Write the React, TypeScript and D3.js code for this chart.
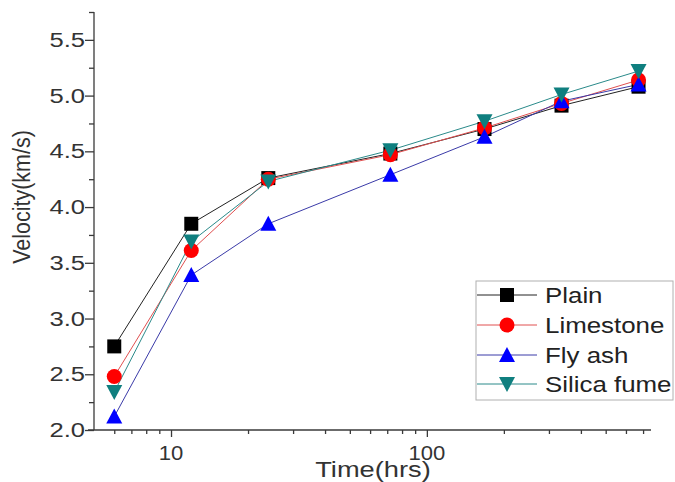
import { useEffect, useRef } from 'react'
import * as d3 from 'd3'

const hours = [6, 12, 24, 72, 168, 336, 672]
const plain = [2.75, 3.85, 4.26, 4.48, 4.7, 4.91, 5.08]
const limestone = [2.48, 3.61, 4.25, 4.47, 4.71, 4.93, 5.14]
const flyAsh = [2.12, 3.39, 3.85, 4.29, 4.63, 4.95, 5.1]
const silicaFume = [2.34, 3.69, 4.23, 4.51, 4.77, 5.01, 5.22]

const seriesNames = ['Plain', 'Limestone', 'Fly ash', 'Silica fume']
const seriesColors = ['#000000', '#ff0000', '#0000ff', '#0f7f7f']
const lineColors = ['#222222', '#e05050', '#3a3aa8', '#2a8a8a']
const seriesShapes = ['square', 'circle', 'triangleUp', 'triangleDown']

const yMajor = [2.0, 2.5, 3.0, 3.5, 4.0, 4.5, 5.0, 5.5]
const yMinor = [2.25, 2.75, 3.25, 3.75, 4.25, 4.75, 5.25, 5.75]
const xMajor = [10, 100]
const xMinor = [6, 7, 8, 9, 20, 30, 40, 50, 60, 70, 80, 90, 200, 300, 400, 500, 600, 700]

const FONT = 'Liberation Sans, Arial, sans-serif'
const AXIS = '#3a3a3a'

function markerPath(shape: string, size: number) {
  const s = size / 2
  if (shape === 'square') return `M${-s},${-s}H${s}V${s}H${-s}Z`
  if (shape === 'circle') return d3.symbol(d3.symbolCircle, Math.PI * (s + 0.5) * (s + 0.5))() as string
  if (shape === 'triangleUp') return `M0,${-s - 1}L${s + 1},${s}L${-s - 1},${s}Z`
  return `M0,${s + 1}L${s + 1},${-s}L${-s - 1},${-s}Z`
}

export default function App() {
  const ref = useRef<SVGSVGElement>(null)

  useEffect(() => {
    const svg = d3.select(ref.current)
    svg.selectAll('*').remove()

    const x = d3.scaleLog().domain([5, 745]).range([94, 650])
    const y = d3.scaleLinear().domain([2.0, 5.75]).range([430, 12])

    const all = [plain, limestone, flyAsh, silicaFume]

    // stretched text helper (the source picture is wider than tall)
    const label = (g: any, tx: number, ty: number, txt: string, size: number, sx: number, anchor: string, fill = '#333') =>
      g.append('text')
        .attr('transform', `translate(${tx},${ty}) scale(${sx},1)`)
        .attr('text-anchor', anchor)
        .attr('font-family', FONT).attr('font-size', size).attr('fill', fill)
        .text(txt)

    // y axis
    const gy = svg.append('g').attr('transform', 'translate(94,0)')
    gy.call(d3.axisLeft(y).tickValues(yMajor).tickSize(9).tickSizeOuter(0).tickFormat(() => ''))
    gy.append('g').call(d3.axisLeft(y).tickValues(yMinor).tickSize(5).tickSizeOuter(0).tickFormat(() => ''))
    gy.selectAll('path.domain').remove()
    gy.append('line').attr('x1', 0).attr('x2', 0).attr('y1', 12).attr('y2', 430)
      .attr('stroke', AXIS).attr('stroke-width', 1.5)
    gy.selectAll('line').attr('stroke', AXIS).attr('stroke-width', 1.3)
    yMajor.forEach(v => label(svg, 85, y(v) + 7, d3.format('.1f')(v), 20, 1.28, 'end'))

    // x axis
    const gx = svg.append('g').attr('transform', 'translate(0,430)')
    gx.call(d3.axisBottom(x).tickValues(xMajor).tickSize(7).tickSizeOuter(0).tickFormat(() => ''))
    gx.append('g').call(d3.axisBottom(x).tickValues(xMinor).tickSize(4).tickSizeOuter(0).tickFormat(() => ''))
    gx.selectAll('path.domain').remove()
    gx.append('line').attr('x1', 88).attr('x2', 651).attr('y1', 0).attr('y2', 0)
      .attr('stroke', AXIS).attr('stroke-width', 1.5)
    gx.selectAll('line').attr('stroke', AXIS).attr('stroke-width', 1.3)
    xMajor.forEach(v => label(svg, x(v), 460, String(v), 21, 1.05, 'middle'))

    // titles
    label(svg, 373, 477, 'Time(hrs)', 22, 1.24, 'middle')
    svg.append('text')
      .attr('transform', 'translate(30,197) rotate(-90) scale(1,1.15)')
      .attr('text-anchor', 'middle')
      .attr('font-family', FONT).attr('font-size', 21.5).attr('fill', '#333')
      .text('Velocity(km/s)')

    // lines
    const line = d3.line<number>().x((_, i) => x(hours[i])).y(d => y(d))
    all.forEach((vals, si) => {
      svg.append('path')
        .attr('d', line(vals))
        .attr('fill', 'none')
        .attr('stroke', lineColors[si])
        .attr('stroke-width', 1)
    })

    // markers
    all.forEach((vals, si) => {
      svg.append('g').selectAll('path')
        .data(vals)
        .enter().append('path')
        .attr('transform', (d, i) => `translate(${x(hours[i])},${y(d)})`)
        .attr('d', markerPath(seriesShapes[si], 14))
        .attr('fill', seriesColors[si])
    })

    // legend
    const lg = svg.append('g')
    lg.append('rect')
      .attr('x', 476).attr('y', 281).attr('width', 197).attr('height', 119)
      .attr('fill', 'white').attr('stroke', '#b0b0b0').attr('stroke-width', 1)
    const rowY = [295, 325, 355, 384]
    seriesNames.forEach((name, si) => {
      const ry = rowY[si]
      lg.append('line')
        .attr('x1', 477).attr('x2', 537).attr('y1', ry).attr('y2', ry)
        .attr('stroke', lineColors[si]).attr('stroke-width', 1)
      lg.append('path')
        .attr('transform', `translate(507,${ry})`)
        .attr('d', markerPath(seriesShapes[si], 14))
        .attr('fill', seriesColors[si])
      label(lg, 545, ry + 8, name, 22.5, 1.15, 'start', '#222')
    })
  }, [])

  return (
    <svg
      ref={ref}
      width={675}
      height={482}
      style={{ position: 'absolute', left: 0, top: 0, background: 'white' }}
    />
  )
}
